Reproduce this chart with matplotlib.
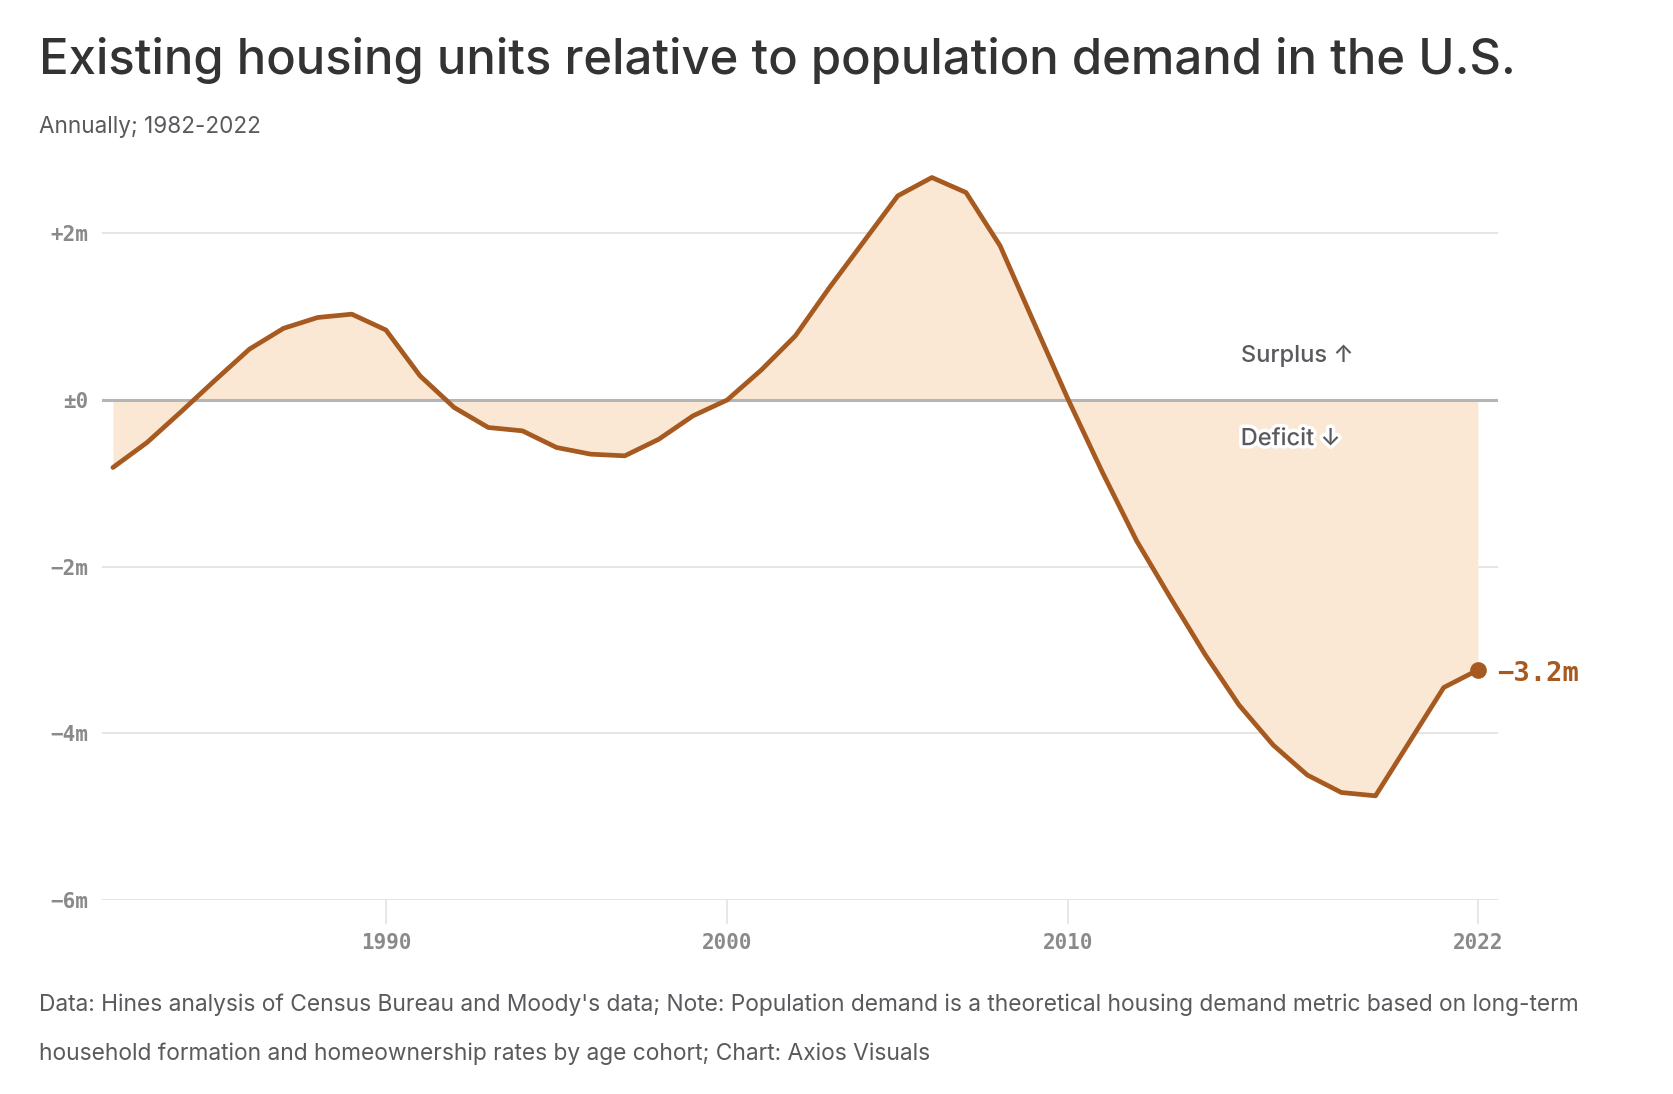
import matplotlib.pyplot as plt
import matplotlib.patheffects as pe

# Surplus / deficit of housing units, millions
years = list(range(1982, 2023))
gap = [-0.81, -0.51, -0.14, 0.24, 0.61, 0.86, 0.99, 1.03, 0.84, 0.29,
       -0.09, -0.33, -0.37, -0.57, -0.65, -0.67, -0.47, -0.19, 0.0, 0.36,
       0.77, 1.35, 1.90, 2.45, 2.67, 2.49, 1.85, 0.92, 0.0, -0.87,
       -1.69, -2.38, -3.05, -3.66, -4.14, -4.50, -4.71, -4.75, -4.10, -3.45,
       -3.24]
yticks = [2, 0, -2, -4, -6]
ytick_labels = ['+2m', '\u00b10', '\u22122m', '\u22124m', '\u22126m']
xticks = [1990, 2000, 2010, 2022]
end_label = '\u22123.2m'

lineColor = '#a65a20'
fillColor = '#fae8d5'
textColor = '#5a5a5e'
monoFont = 'DejaVu Sans Mono'
sansFont = ['Inter', 'DejaVu Sans']

W, H = 1674, 1094
fig = plt.figure(figsize=(W / 100, H / 100), dpi=100)
ax = fig.add_axes([102 / W, 1 - 900 / H, (1498 - 102) / W, (900 - 150) / H])

ax.set_xlim(1981.68, 2022.59)
ax.set_ylim(-6, 3.0)

# gridlines
for t in yticks:
    if t == 0:
        continue
    ax.axhline(t, color='#e3e3e3', lw=1.3, zorder=1)

ax.fill_between(years, gap, 0, color=fillColor, lw=0, zorder=2)
ax.axhline(0, color='#b5b5b5', lw=2.2, zorder=3)
ax.plot(years, gap, color=lineColor, lw=3.4, solid_joinstyle='round',
        solid_capstyle='round', zorder=4)
ax.plot(years[-1], gap[-1], 'o', color=lineColor, ms=11, zorder=5)
ax.text(years[-1] + 0.55, gap[-1] - 0.05, end_label, color=lineColor, fontsize=19.5,
        family=monoFont, fontweight='bold', va='center', ha='left')

ax.text(2015.05, 0.53, 'Surplus \u2191', color=textColor, fontsize=17,
        family=sansFont, fontweight='medium', va='center', ha='left')
ax.text(2015.05, -0.47, 'Deficit \u2193', color=textColor, fontsize=17,
        family=sansFont, fontweight='medium', va='center', ha='left', zorder=6,
        path_effects=[pe.withStroke(linewidth=5, foreground='white')])

ax.set_yticks(yticks)
ax.set_yticklabels(ytick_labels, family=monoFont, fontsize=15,
                   color='#8a8a8a', fontweight='bold')
ax.set_xticks(xticks)
ax.set_xticklabels([str(x) for x in xticks], family=monoFont, fontsize=15,
                   color='#8a8a8a', fontweight='bold')
ax.tick_params(axis='y', length=0, pad=10)
ax.tick_params(axis='x', length=17, width=1.2, color='#e3e3e3', pad=7)

for s in ax.spines.values():
    s.set_visible(False)

fig.text(39 / W, 1 - 61 / H, 'Existing housing units relative to population demand in the U.S.',
         fontsize=35.3, family=sansFont, fontweight='medium', color='#333333',
         va='center', ha='left')
fig.text(39 / W, 1 - 127 / H, 'Annually; 1982-2022', fontsize=16.2,
         family=sansFont, color=textColor, va='center', ha='left')
fig.text(39 / W, 1 - 1005 / H,
         "Data: Hines analysis of Census Bureau and Moody's data; Note: Population demand is a theoretical housing demand metric based on long-term",
         fontsize=16.4, family=sansFont, color=textColor, va='center', ha='left')
fig.text(39 / W, 1 - 1054 / H,
         'household formation and homeownership rates by age cohort; Chart: Axios Visuals',
         fontsize=16.4, family=sansFont, color=textColor, va='center', ha='left')

fig.savefig('out.png', dpi=100, facecolor='white')
